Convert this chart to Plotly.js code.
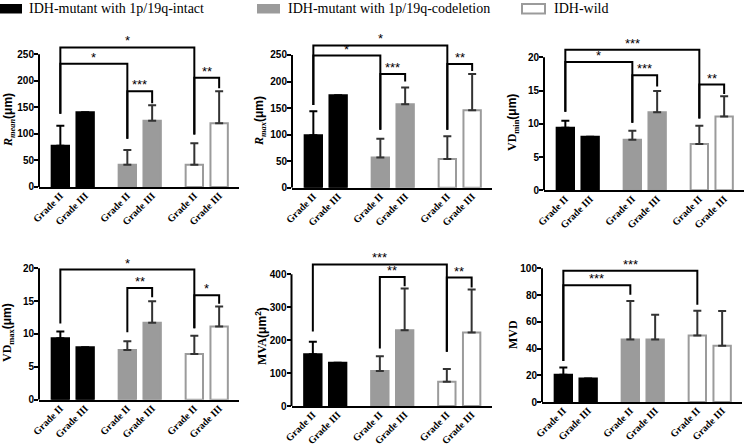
<!DOCTYPE html>
<html><head><meta charset="utf-8">
<script src="https://cdn.plot.ly/plotly-3.0.1.min.js"></script>
<style>html,body{margin:0;padding:0;background:#fff}#chart{width:746px;height:446px}</style>
</head><body><div id="chart"></div>
<script>
// ---------- data ----------
const categories = ['Grade II','Grade III','Grade II','Grade III','Grade II','Grade III'];
const groups = ['IDH-mutant with 1p/19q-intact','IDH-mutant with 1p/19q-codeletion','IDH-wild'];
const positions = [0, 1, 2.7, 3.7, 5.4, 6.4];

const rmeanMean = [77.5, 140.6, 42, 125, 42, 120];
const rmeanSD   = [38, null, 27.5, 29, 40.5, 60.5];
const rmaxMean  = [99, 174, 57, 157, 54, 146];
const rmaxSD    = [45, null, 35, 32, 43, 68];
const vdminMean = [9.4, 8.05, 7.6, 11.75, 6.95, 11.1];
const vdminSD   = [1.05, null, 1.35, 3.2, 2.75, 3.05];
const vdmaxMean = [9.35, 8.0, 7.55, 11.7, 6.95, 11.15];
const vdmaxSD   = [1.05, null, 1.35, 3.3, 2.8, 3.05];
const mvaMean   = [157, 131, 106, 230, 74, 223];
const mvaSD     = [38, null, 45, 127, 38, 131];
const mvdMean   = [20.3, 17.5, 46.8, 46.8, 49.8, 42];
const mvdSD     = [5.5, null, 28.7, 18.5, 18.5, 26];

// significance brackets: [from index, to index, level, left leg end, right leg end, label]
const rmeanBr = [[0,4,263,138,99,'*'],[0,2,232,138,91,'*'],[2,3,180.6,91,158,'***'],[4,5,205.6,99,186,'**']];
const rmaxBr  = [[0,4,268,156,109,'*'],[0,2,249,156,109,'*'],[2,3,214,109,200,'***'],[4,5,233,109,220,'**']];
const vdminBr = [[0,4,21.15,11.8,10.8,'***'],[0,2,19.3,11.8,10.15,'*'],[2,3,17.3,10.15,15.6,'***'],[4,5,15.9,10.8,14.5,'**']];
const vdmaxBr = [[0,4,19.8,11.6,10.86,'*'],[2,3,17.0,10.25,15.6,'**'],[4,5,15.9,10.86,14.6,'*']];
const mvaBr   = [[0,4,430,226,165,'***'],[2,3,392,175,364,'**'],[4,5,390,165,360,'**']];
const mvdBr   = [[0,4,98.25,30.75,72.75,'***'],[0,2,87.25,30.75,80.25,'***']];

// ---------- layout helpers ----------
const W = 746, H = 446;
const SERIF = 'Liberation Serif, Times New Roman, serif';
const SANS = 'Liberation Sans, Arial, sans-serif';
const panels = [
  {mean:rmeanMean, sd:rmeanSD, br:rmeanBr, left:39,  zero:187,   topTick:250, topPx:54.3,  dtick:50,  rangeTop:280, tx:9,   ty:120,
   title:'<span style="font-family:Liberation Serif"><i>R</i><sub><i>mean</i></sub></span>(μm)'},
  {mean:rmaxMean,  sd:rmaxSD,  br:rmaxBr,  left:292, zero:187.7, topTick:250, topPx:55,    dtick:50,  rangeTop:280, tx:260, ty:121,
   title:'<span style="font-family:Liberation Serif"><i>R</i><sub><i>max</i></sub></span>(μm)'},
  {mean:vdminMean, sd:vdminSD, br:vdminBr, left:544, zero:190.3, topTick:20,  topPx:57.3,  dtick:5,   rangeTop:22,  tx:513, ty:123,
   title:'<span style="font-family:Liberation Serif">VD<sub>min</sub></span>(μm)'},
  {mean:vdmaxMean, sd:vdmaxSD, br:vdmaxBr, left:39,  zero:399.7, topTick:20,  topPx:268.3, dtick:5,   rangeTop:21.5,tx:8,   ty:333,
   title:'<span style="font-family:Liberation Serif">VD<sub>max</sub></span>(μm)'},
  {mean:mvaMean,   sd:mvaSD,   br:mvaBr,   left:291.5,zero:406,  topTick:400, topPx:274.3, dtick:100, rangeTop:445, tx:261, ty:336,
   title:'<span style="font-family:Liberation Serif">MVA</span>(μm<sup>2</sup>)'},
  {mean:mvdMean,   sd:mvdSD,   br:mvdBr,   left:542, zero:402,   topTick:100, topPx:268.3, dtick:20,  rangeTop:105, tx:513, ty:335,
   title:'<span style="font-family:Liberation Serif">MVD</span>'}
];
const fills = ['#000000', '#9b9b9b', '#ffffff'];
const outlines = ['#000000', '#9b9b9b', '#9b9b9b'];
const errColors = ['#000000', '#333333', '#333333'];
const xRange = [-0.86, 7.2];
const axisWidthPx = 200;

const traces = [], shapes = [], annotations = [];
const layout = {
  width: W, height: H, margin: {l:0, r:0, t:0, b:0},
  paper_bgcolor: '#fff', plot_bgcolor: 'rgba(0,0,0,0)',
  showlegend: false, barmode: 'overlay', font: {family: SANS, color: '#000'}
};

panels.forEach((p, k) => {
  const sfx = k === 0 ? '' : String(k + 1);
  const xa = 'x' + sfx, ya = 'y' + sfx;
  const pxPerUnit = (p.zero - p.topPx) / p.topTick;
  const topPxRange = p.zero - p.rangeTop * pxPerUnit;
  layout['xaxis' + sfx] = {
    domain: [p.left / W, (p.left + axisWidthPx) / W], anchor: ya, range: xRange,
    showline: true, linewidth: 2, linecolor: '#000', showgrid: false, zeroline: false,
    ticks: '', ticklabelstandoff: -3,
    tickmode: 'array', tickvals: positions, ticktext: categories, tickangle: -45,
    tickfont: {family: SERIF, size: 10, weight: 'bold', color: '#000'}, fixedrange: true
  };
  const tv = [];
  for (let v = 0; v <= p.topTick + 1e-9; v += p.dtick) tv.push(v);
  layout['yaxis' + sfx] = {
    domain: [1 - p.zero / H, 1 - topPxRange / H], anchor: xa, range: [0, p.rangeTop],
    showline: false, showgrid: false, zeroline: false,
    ticks: 'outside', ticklen: 4, tickwidth: 2, tickcolor: '#000', ticklabelstandoff: -2,
    tickmode: 'array', tickvals: tv, ticktext: tv.map(String),
    tickfont: {family: SANS, size: 10, weight: 'bold', color: '#000'}, fixedrange: true
  };
  shapes.push({type: 'line', xref: xa + ' domain', yref: ya, x0: 0, x1: 0, y0: 0, y1: p.topTick,
    line: {color: '#000', width: 2}, layer: 'above'});
  for (let g = 0; g < 3; g++) {
    const idx = [2 * g, 2 * g + 1];
    traces.push({
      type: 'bar', xaxis: xa, yaxis: ya, name: groups[g],
      x: idx.map(i => positions[i]), y: idx.map(i => p.mean[i]), width: 0.7,
      marker: {color: fills[g], line: {color: outlines[g], width: 2}},
      error_y: {type: 'data', symmetric: false, visible: true,
        array: idx.map(i => p.sd[i]), arrayminus: idx.map(i => p.sd[i] == null ? null : 0),
        color: errColors[g], thickness: 2, width: 4},
      hoverinfo: 'skip'
    });
  }
  p.br.forEach(b => {
    const [i, j, lvl, lb, rb, lab] = b;
    const xi = positions[i], xj = positions[j];
    shapes.push({type: 'path', xref: xa, yref: ya,
      path: `M ${xi},${lb} L ${xi},${lvl} L ${xj},${lvl} L ${xj},${rb}`,
      line: {color: '#000', width: 2}, layer: 'above'});
    annotations.push({xref: xa, yref: ya, x: (xi + xj) / 2, y: lvl, text: lab, showarrow: false,
      xanchor: 'center', yanchor: 'bottom', yshift: -3,
      font: {family: SANS, size: 13, color: '#000'}});
  });
  annotations.push({xref: 'paper', yref: 'paper', x: p.tx / W, y: 1 - p.ty / H, text: p.title,
    showarrow: false, textangle: -90, xanchor: 'center', yanchor: 'middle',
    font: {family: SANS, size: 12, weight: 'bold', color: '#000'}});
});

const legendBoxes = [[0, 22], [257, 280], [522, 545]];
const legendTextX = [27, 286, 552];
groups.forEach((name, g) => {
  shapes.push({type: 'rect', xref: 'paper', yref: 'paper',
    x0: legendBoxes[g][0] / W, x1: legendBoxes[g][1] / W, y0: 1 - 13.5 / H, y1: 1 - 4 / H,
    fillcolor: fills[g], line: {color: outlines[g], width: g === 2 ? 2 : 0}});
  annotations.push({xref: 'paper', yref: 'paper', x: legendTextX[g] / W, y: 1 - 9 / H,
    text: name, showarrow: false, xanchor: 'left', yanchor: 'middle',
    font: {family: SERIF, size: 14, color: '#000'}});
});

layout.shapes = shapes;
layout.annotations = annotations;
Plotly.newPlot('chart', traces, layout, {staticPlot: true, displayModeBar: false});
</script>
</body></html>
